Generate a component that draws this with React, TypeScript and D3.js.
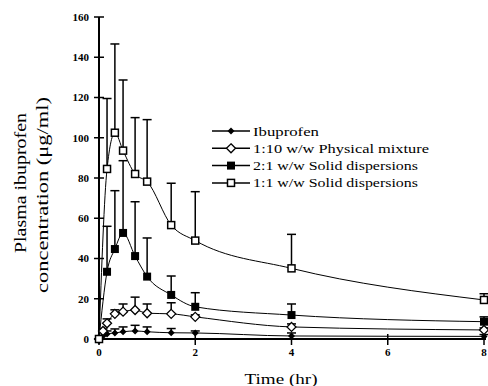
import React from 'react'
import * as d3 from 'd3'

// sampling times (hr)
const timesEarly = [0, 0.083, 0.167, 0.33, 0.5, 0.75, 1, 1.5, 2, 4, 8]
const timesLate = [0, 0.167, 0.33, 0.5, 0.75, 1, 1.5, 2, 4, 8]

// mean plasma concentration (ug/ml) and upper error bar top
const ibuprofen = [0, 1.5, 2.5, 3, 3.6, 4, 3.6, 3.1, 3, 1.5, 1.3]
const ibuprofenTop = [0, 2, 4, 5, 6, 6.8, 6, 5.2, 4, 3, 2.2]
const physical = [0, 4, 7.8, 12.5, 13.6, 14.4, 12.8, 12.5, 11, 6, 4.5]
const physicalTop = [0, 5, 10, 14.5, 17.4, 20.8, 17.4, 18, 12, 7.5, 5.5]
const sd21 = [0, 33.4, 44.7, 52.7, 41.2, 31, 21.9, 16, 11.9, 8.6]
const sd21Top = [0, 56, 73.7, 88.6, 68.2, 50.2, 31.3, 23, 17.4, 11]
const sd11 = [0, 84.5, 102.5, 93.6, 82, 78.2, 56.6, 48.9, 35.1, 19.4]
const sd11Top = [0, 119.5, 146.6, 128.7, 110, 109, 77.4, 73.2, 52, 22.5]

const legendLabels = [
  'Ibuprofen',
  '1:10 w/w Physical mixture',
  '2:1 w/w Solid dispersions',
  '1:1 w/w Solid dispersions',
]
const yTicks = [0, 20, 40, 60, 80, 100, 120, 140, 160]
const xTicks = [0, 2, 4, 6, 8]

type Marker = 'fdiamond' | 'odiamond' | 'fsquare' | 'osquare'

const series: { t: number[]; v: number[]; top: number[]; marker: Marker }[] = [
  { t: timesEarly, v: ibuprofen, top: ibuprofenTop, marker: 'fdiamond' },
  { t: timesEarly, v: physical, top: physicalTop, marker: 'odiamond' },
  { t: timesLate, v: sd21, top: sd21Top, marker: 'fsquare' },
  { t: timesLate, v: sd11, top: sd11Top, marker: 'osquare' },
]

function MarkerShape({ kind, cx, cy }: { kind: Marker; cx: number; cy: number }) {
  if (kind === 'fdiamond') {
    const r = 3.5
    return <path d={`M${cx},${cy - r}L${cx + r},${cy}L${cx},${cy + r}L${cx - r},${cy}Z`} fill="#000" />
  }
  if (kind === 'odiamond') {
    const r = 4.5
    return <path d={`M${cx},${cy - r}L${cx + r},${cy}L${cx},${cy + r}L${cx - r},${cy}Z`} fill="#fff" stroke="#000" strokeWidth={1.3} />
  }
  if (kind === 'fsquare') {
    return <rect x={cx - 4} y={cy - 4} width={8} height={8} fill="#000" />
  }
  return <rect x={cx - 3.5} y={cy - 3.5} width={7} height={7} fill="#fff" stroke="#000" strokeWidth={1.5} />
}

export default function App() {
  const width = 488
  const height = 386
  const x = d3.scaleLinear().domain([0, 8]).range([99, 484])
  const y = d3.scaleLinear().domain([0, 160]).range([339, 17])

  const line = (t: number[], v: number[]) =>
    d3.line<number>()
      .x((_, i) => x(t[i]))
      .y(d => y(d))
      .curve(d3.curveMonotoneX)(v) || ''

  const font = 'Liberation Serif, Times New Roman, serif'

  return (
    <svg width={width} height={height} style={{ position: 'absolute', left: 0, top: 0, background: '#fff' }} fontFamily={font}>
      {/* series lines */}
      {series.map((s, i) => (
        <path key={'l' + i} d={line(s.t, s.v)} fill="none" stroke="#000" strokeWidth={1} />
      ))}
      {/* error bars */}
      {series.map((s, i) => (
        <g key={'e' + i}>
          {s.v.map((d, j) => (s.top[j] - d > 0.8 ? (
            <g key={j}>
              <line x1={x(s.t[j])} x2={x(s.t[j])} y1={y(d)} y2={y(s.top[j])} stroke="#000" strokeWidth={1.5} />
              <line x1={x(s.t[j]) - 4.5} x2={x(s.t[j]) + 4.5} y1={y(s.top[j])} y2={y(s.top[j])} stroke="#000" strokeWidth={1.5} />
            </g>
          ) : null))}
        </g>
      ))}
      {/* axes */}
      <line x1={x(0)} x2={x(0)} y1={y(0)} y2={y(160)} stroke="#000" strokeWidth={2} />
      <line x1={x(0)} x2={x(8) + 2} y1={y(0)} y2={y(0)} stroke="#000" strokeWidth={2} />
      {yTicks.map(t => (
        <g key={'yt' + t}>
          <line x1={x(0) - 5} x2={x(0) + 5} y1={y(t)} y2={y(t)} stroke="#000" strokeWidth={1.5} />
          <text x={89} y={y(t)} dy="0.35em" textAnchor="end" fontSize={11} fontWeight="bold">{t}</text>
        </g>
      ))}
      {xTicks.map(t => (
        <g key={'xt' + t}>
          <line x1={x(t)} x2={x(t)} y1={y(0) - 5} y2={y(0) + 6} stroke="#000" strokeWidth={1.5} />
          <text x={x(t)} y={356} textAnchor="middle" fontSize={11} fontWeight="bold">{t}</text>
        </g>
      ))}
      {/* markers */}
      {series.map((s, i) => (
        <g key={'m' + i}>
          {s.v.map((d, j) => (
            <MarkerShape key={j} kind={s.marker} cx={x(s.t[j])} cy={y(d)} />
          ))}
        </g>
      ))}
      {/* axis titles */}
      <text x={281} y={384} textAnchor="middle" fontSize={15} textLength={73} lengthAdjust="spacingAndGlyphs">Time (hr)</text>
      <text transform="translate(26,183) rotate(-90)" textAnchor="middle" fontSize={16} textLength={140} lengthAdjust="spacingAndGlyphs">Plasma ibuprofen</text>
      <text transform="translate(48,195) rotate(-90)" textAnchor="middle" fontSize={16} textLength={196} lengthAdjust="spacingAndGlyphs">concentration (μg/ml)</text>
      {/* legend */}
      {legendLabels.map((lab, i) => {
        const ly = 131 + i * 17.3
        const widths = [66, 176, 165, 165]
        return (
          <g key={'lg' + i}>
            <line x1={212} x2={250} y1={ly} y2={ly} stroke="#000" strokeWidth={1.5} />
            <MarkerShape kind={series[i].marker} cx={231} cy={ly} />
            <text x={253} y={ly} dy="0.35em" fontSize={13} textLength={widths[i]} lengthAdjust="spacingAndGlyphs">{lab}</text>
          </g>
        )
      })}
    </svg>
  )
}
